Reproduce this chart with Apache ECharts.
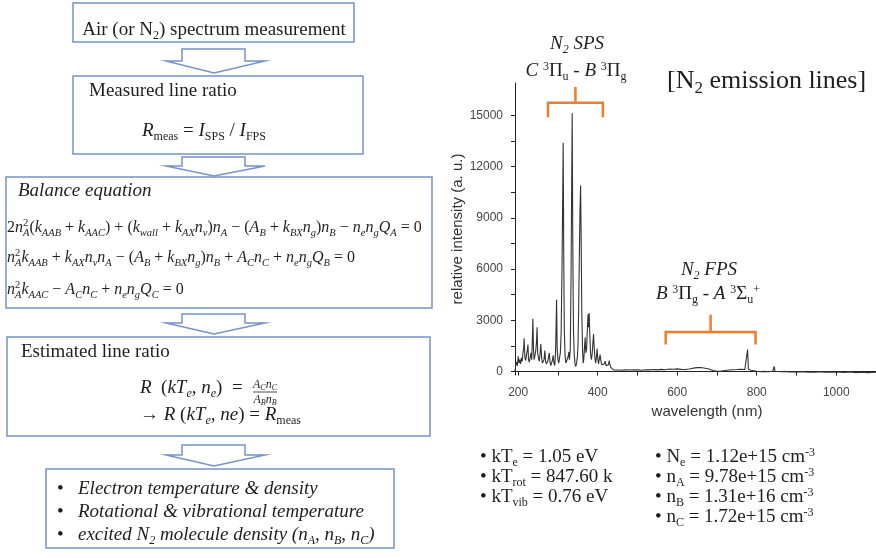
<!DOCTYPE html>
<html>
<head>
<meta charset="utf-8">
<script src="https://cdn.jsdelivr.net/npm/echarts@6/dist/echarts.min.js"></script>
<style>
  html, body { margin: 0; padding: 0; background: #fff; }
  #main { width: 876px; height: 558px; }
</style>
</head>
<body>
<div id="main"></div>
<script>
// spectrum: wavelength (nm) and relative intensity (a. u.)
var wavelength = [
    192, 194, 196, 198, 200, 202, 204, 206, 208, 210, 212, 214, 215, 217, 219, 221, 223, 224.5, 226, 228,
    230, 232, 234, 235.5, 237, 238.5, 240, 242, 244, 246, 247.5, 249, 251, 253, 255, 257, 259, 261, 263, 265,
    267, 269, 271, 273, 275, 277, 278.5, 280, 282, 284, 286, 288, 290, 292, 294, 296.6, 298, 300, 302, 304,
    306, 308, 310, 311.5, 313.2, 314.5, 316, 318, 320, 322, 324, 326, 327.5, 329, 331, 333, 335.8, 337.5, 339, 341,
    343, 345, 347, 349, 350.5, 352, 354, 355.5, 357, 358.5, 360, 362, 363.5, 365, 367, 368.5, 370, 372, 374, 375.8,
    377, 378.6, 380, 382, 384, 386, 388, 389.6, 391, 393, 395, 397, 398.5, 400, 402, 404, 406, 408, 410, 412,
    414, 416, 419, 421, 424, 427, 429, 431, 433, 436, 440, 445, 450, 455, 460, 465, 470, 480, 490, 500,
    510, 520, 530, 540, 550, 560, 570, 580, 590, 600, 610, 620, 630, 640, 650, 655, 660, 665, 670, 680,
    690, 700, 710, 720, 730, 740, 750, 760, 770, 775, 777, 779, 785, 790, 800, 810, 820, 830, 840, 844,
    846, 850, 860, 870, 880, 890, 900, 910, 920, 930, 940, 950, 960, 970, 980, 990, 1000, 1010, 1020, 1030,
    1040, 1050, 1060, 1070, 1080, 1090, 1100
];
var intensity = [
    0, 400, 550, 350, 900, 500, 700, 450, 800, 600, 1100, 1400, 1950, 800, 650, 1000, 1250, 1580, 700, 550,
    800, 1100, 700, 1700, 3100, 1300, 700, 900, 1200, 1700, 2590, 1100, 800, 600, 1000, 1620, 800, 500, 450, 700,
    1230, 600, 450, 400, 650, 950, 1090, 550, 350, 450, 650, 950, 500, 350, 1100, 4200, 1400, 700, 500, 800,
    1100, 2200, 5700, 9000, 13400, 7000, 2500, 900, 500, 400, 600, 900, 1150, 700, 1300, 5500, 15130, 7000, 2500, 1000,
    450, 300, 500, 900, 1600, 3500, 7000, 9500, 10900, 7500, 3500, 1200, 500, 700, 1500, 2000, 1100, 1300, 2500, 3350,
    2600, 3430, 2300, 1100, 700, 1000, 1700, 2200, 1500, 800, 500, 900, 1350, 800, 450, 550, 1000, 650, 400, 300,
    350, 450, 600, 350, 250, 400, 640, 400, 250, 150, 100, 140, 90, 120, 80, 110, 100, 90, 110, 100,
    80, 110, 100, 120, 100, 130, 110, 150, 140, 160, 130, 120, 150, 200, 230, 260, 240, 220, 200, 150,
    60, 20, 30, 60, 90, 110, 120, 140, 120, 150, 1290, 150, 80, 50, 20, 0, 10, -10, 20, 300,
    20, 0, -10, 10, -20, 0, -30, -10, -20, -40, -20, -30, -10, -40, -30, -20, -40, -30, -50, -30,
    -40, -60, -40, -50, -60, -50, -40
];

// axis ticks
var xTicks = [200, 300, 400, 500, 600, 700, 800, 900, 1000, 1100];
var xLabels = [200, 400, 600, 800, 1000];
var yTicks = [0, 1500, 3000, 4500, 6000, 7500, 9000, 10500, 12000, 13500, 15000];
var yLabels = [0, 3000, 6000, 9000, 12000, 15000];

// band brackets: [from nm, to nm, end y, bar y, stem top y]
var spsBracket = [275, 413, 14900, 15740, 16670];
var fpsBracket = [571, 797, 1580, 2320, 3330];

var spectrum = wavelength.map(function (w, i) {
    return [w, intensity[i]];
});

var chart = echarts.init(document.getElementById('main'), null, { renderer: 'canvas' });

var serif = 'Liberation Serif';
var ink = '#1e1e1e';
var boxColor = '#7593c8';

// rich text styles used by the flow chart and annotations
var rich = {
    r: { fontFamily: serif, fontSize: 19, color: ink, lineHeight: 24 },
    ri: { fontFamily: serif, fontSize: 19, fontStyle: 'italic', color: ink, lineHeight: 24 },
    rs: { fontFamily: serif, fontSize: 12, color: ink, height: 13, verticalAlign: 'bottom' },
    ris: { fontFamily: serif, fontSize: 12, fontStyle: 'italic', color: ink, height: 13, verticalAlign: 'bottom' },
    rq: { fontFamily: serif, fontSize: 12, color: ink, height: 16, verticalAlign: 'top' },
    t: { fontFamily: serif, fontSize: 26, color: ink, lineHeight: 32 },
    ts: { fontFamily: serif, fontSize: 17, color: ink, height: 17, verticalAlign: 'bottom' },
    v: { fontFamily: serif, fontSize: 16, fontStyle: 'italic', color: ink, lineHeight: 21 },
    n: { fontFamily: serif, fontSize: 16, color: ink, lineHeight: 21 },
    vs: { fontFamily: serif, fontSize: 10.5, fontStyle: 'italic', color: ink, height: 11, verticalAlign: 'bottom' },
    vp: { fontFamily: serif, fontSize: 10.5, color: ink, height: 11, verticalAlign: 'top', width: 0 },
    f: { fontFamily: serif, fontSize: 12, fontStyle: 'italic', color: ink, lineHeight: 14 },
    fs: { fontFamily: serif, fontSize: 8, fontStyle: 'italic', color: ink, height: 8, verticalAlign: 'bottom' }
};

function txt(x, y, text, align) {
    return {
        type: 'text', x: x, y: y, z: 10,
        style: {
            text: text, rich: rich, fill: ink,
            align: align || 'left', verticalAlign: 'middle',
            textAlign: align || 'left', textVerticalAlign: 'middle'
        }
    };
}

function box(x, y, w, h) {
    return {
        type: 'rect', z: 5,
        shape: { x: x, y: y, width: w, height: h },
        style: { fill: '#fff', stroke: boxColor, lineWidth: 1.5 }
    };
}

// hollow down arrow between boxes
function arrow(top, wing, tip) {
    return {
        type: 'polygon', z: 5,
        shape: {
            points: [[182, top], [245, top], [245, wing], [265, wing], [214, tip],
                [166, wing], [182, wing]]
        },
        style: { fill: '#fff', stroke: boxColor, lineWidth: 1.5 }
    };
}

var eq1 = '{n|2}{v|n}{vp|2}{vs|A}{n|(}{v|k}{vs|AAB}{n| + }{v|k}{vs|AAC}{n|) + (}{v|k}{vs|wall}{n| + }{v|k}{vs|AX}{v|n}{vs|v}{n|)}{v|n}{vs|A}{n| − (}{v|A}{vs|B}{n| + }{v|k}{vs|BX}{v|n}{vs|g}{n|)}{v|n}{vs|B}{n| − }{v|n}{vs|e}{v|n}{vs|g}{v|Q}{vs|A}{n| = 0}';
var eq2 = '{v|n}{vp|2}{vs|A}{v|k}{vs|AAB}{n| + }{v|k}{vs|AX}{v|n}{vs|v}{v|n}{vs|A}{n| − (}{v|A}{vs|B}{n| + }{v|k}{vs|BX}{v|n}{vs|g}{n|)}{v|n}{vs|B}{n| + }{v|A}{vs|C}{v|n}{vs|C}{n| + }{v|n}{vs|e}{v|n}{vs|g}{v|Q}{vs|B}{n| = 0}';
var eq3 = '{v|n}{vp|2}{vs|A}{v|k}{vs|AAC}{n| − }{v|A}{vs|C}{v|n}{vs|C}{n| + }{v|n}{vs|e}{v|n}{vs|g}{v|Q}{vs|C}{n| = 0}';

var graphics = [
    box(73, 3, 281, 39),
    arrow(49, 61, 73),
    box(73, 76, 290, 78),
    arrow(157, 166, 176),
    box(6, 177, 426, 131),
    arrow(314, 323, 334),
    box(7, 337, 423, 99),
    arrow(445, 455, 466),
    box(46, 469, 348, 79),

    txt(214, 30, '{r|Air (or N}{rs|2}{r|) spectrum measurement}', 'center'),
    txt(89, 91, '{r|Measured line ratio}'),
    txt(142, 131, '{ri|R}{rs|meas}{r| = }{ri|I}{rs|SPS}{r| / }{ri|I}{rs|FPS}'),
    txt(18, 191, '{ri|Balance equation}'),
    txt(7, 228, eq1),
    txt(7, 258, eq2),
    txt(7, 290, eq3),
    txt(21, 352, '{r|Estimated line ratio}'),
    txt(140, 388, '{ri|R}{r|  (}{ri|kT}{ris|e}{r|, }{ri|n}{ris|e}{r|)  =}'),
    txt(265, 385, '{f|A}{fs|C}{f|n}{fs|C}', 'center'),
    {
        type: 'line', z: 10,
        shape: { x1: 253, y1: 392, x2: 277, y2: 392 },
        style: { stroke: ink, lineWidth: 0.8 }
    },
    txt(265, 400, '{f|A}{fs|B}{f|n}{fs|B}', 'center'),
    txt(140, 415, '{r|→ }{ri|R}{r| (}{ri|kT}{ris|e}{r|, }{ri|ne}{r|) = }{ri|R}{rs|meas}'),

    txt(57, 489, '{r|•}'),
    txt(78, 489, '{ri|Electron temperature & density}'),
    txt(57, 512, '{r|•}'),
    txt(78, 512, '{ri|Rotational & vibrational temperature}'),
    txt(57, 535, '{r|•}'),
    txt(78, 535, '{ri|excited N}{ris|2}{ri| molecule density (}{ri|n}{ris|A}{ri|, }{ri|n}{ris|B}{ri|, }{ri|n}{ris|C}{ri|)}'),

    // right side annotations
    txt(577, 44, '{ri|N}{ris|2}{ri| SPS}', 'center'),
    txt(576, 71, '{ri|C}{r| }{rq|3}{r|Π}{rs|u}{r| - }{ri|B}{r| }{rq|3}{r|Π}{rs|g}', 'center'),
    txt(667, 81, '{t|[N}{ts|2}{t| emission lines]}'),
    txt(709, 270, '{ri|N}{ris|2}{ri| FPS}', 'center'),
    txt(708, 294, '{ri|B}{r| }{rq|3}{r|Π}{rs|g}{r| - }{ri|A}{r| }{rq|3}{r|Σ}{rs|u}{rq|+}', 'center'),

    txt(480, 457, '{r|• kT}{rs|e}{r| = 1.05 eV}'),
    txt(480, 477, '{r|• kT}{rs|rot}{r| = 847.60 k}'),
    txt(480, 497, '{r|• kT}{rs|vib}{r| = 0.76 eV}'),
    txt(655, 457, '{r|• N}{rs|e}{r| = 1.12e+15 cm}{rq|-3}'),
    txt(655, 477, '{r|• n}{rs|A}{r| = 9.78e+15 cm}{rq|-3}'),
    txt(655, 497, '{r|• n}{rs|B}{r| = 1.31e+16 cm}{rq|-3}'),
    txt(655, 517, '{r|• n}{rs|C}{r| = 1.72e+15 cm}{rq|-3}')
];

var sans = 'Liberation Sans';

function plain(v) {
    return String(v);
}

var option = {
    animation: false,
    backgroundColor: '#fff',
    grid: { left: 515, right: 0, top: 83, bottom: 183 },
    xAxis: {
        type: 'value',
        min: 192,
        max: 1100,
        name: 'wavelength (nm)',
        nameLocation: 'middle',
        nameGap: 27,
        nameTextStyle: { fontFamily: sans, fontSize: 15, color: '#333', padding: [0, 0, 0, 23] },
        axisLine: { lineStyle: { color: '#222', width: 1 } },
        axisTick: { customValues: xTicks, length: 4, lineStyle: { color: '#222' } },
        axisLabel: { customValues: xLabels, formatter: plain, fontFamily: sans, fontSize: 12, color: '#444', margin: 12 },
        splitLine: { show: false }
    },
    yAxis: {
        type: 'value',
        min: -200,
        max: 16900,
        name: 'relative intensity (a. u.)',
        nameLocation: 'middle',
        nameGap: 48,
        nameTextStyle: { fontFamily: sans, fontSize: 15, color: '#333' },
        axisLine: { show: true, lineStyle: { color: '#222', width: 1 } },
        axisTick: { show: true, customValues: yTicks, length: 4, lineStyle: { color: '#222' } },
        axisLabel: { customValues: yLabels, formatter: plain, fontFamily: sans, fontSize: 12, color: '#444', margin: 12 },
        splitLine: { show: false }
    },
    series: [
        {
            type: 'line',
            data: spectrum,
            showSymbol: false,
            lineStyle: { color: '#333', width: 1.1 },
            z: 3
        },
        {
            type: 'custom',
            data: [spsBracket, fpsBracket],
            clip: false,
            z: 4,
            renderItem: function (params, api) {
                var x1 = api.value(0), x2 = api.value(1);
                var xm = (x1 + x2) / 2;
                var pEnd1 = api.coord([x1, api.value(2)]);
                var pBar1 = api.coord([x1, api.value(3)]);
                var pBar2 = api.coord([x2, api.value(3)]);
                var pEnd2 = api.coord([x2, api.value(2)]);
                var pMid = api.coord([xm, api.value(3)]);
                var pTop = api.coord([xm, api.value(4)]);
                var st = { stroke: '#f07c2c', lineWidth: 2.5, fill: null };
                return {
                    type: 'group',
                    children: [
                        { type: 'polyline', shape: { points: [pEnd1, pBar1, pBar2, pEnd2] }, style: st },
                        { type: 'line', shape: { x1: pMid[0], y1: pMid[1], x2: pTop[0], y2: pTop[1] }, style: st }
                    ]
                };
            }
        }
    ],
    graphic: { elements: graphics }
};

chart.setOption(option);
</script>
</body>
</html>
